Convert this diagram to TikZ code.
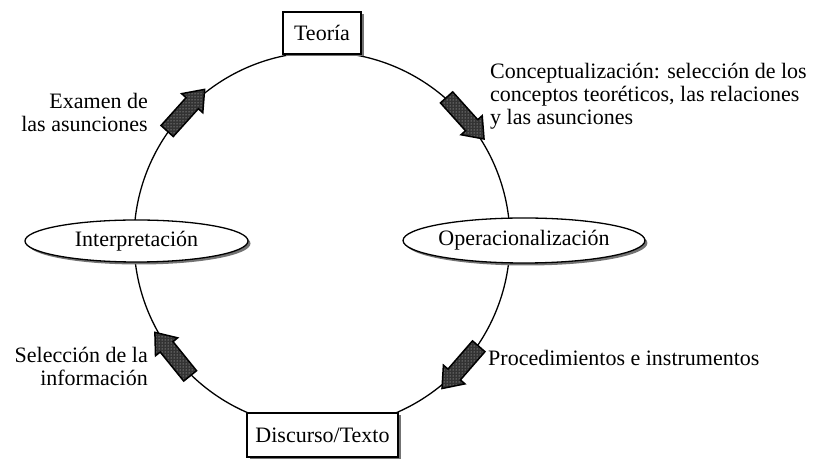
\documentclass[tikz,border=0pt]{standalone}
\usepackage{fontspec}
\setmainfont{Liberation Serif}
\usetikzlibrary{shapes.geometric,shapes.arrows,shadows,calc,patterns}
\begin{document}
\begin{tikzpicture}[x=1pt,y=1pt,
  txt/.style={font=\fontsize{22}{23}\selectfont},
  lbl/.style={txt, inner sep=0pt},
  shad/.style={drop shadow={shadow xshift=2.5pt, shadow yshift=-2.5pt, fill=black!55, opacity=1}},
  boxnode/.style={txt, draw, line width=1.4pt, fill=white, shad, inner sep=0pt},
  ellnode/.style={txt, ellipse, draw, line width=1.3pt, fill=white, shad, inner sep=0pt},
  flowarrow/.style={single arrow, draw, line width=1.5pt,
    preaction={fill=black!80}, pattern=dots, pattern color=white!85!black,
    minimum height=56pt, inner sep=0pt, text height=7.5pt, text depth=7.5pt,
    single arrow head extend=6pt, single arrow tip angle=75}
]
\useasboundingbox (0,0) rectangle (824,460);
\coordinate (O) at (322,220);
\draw[line width=1.3pt] (O) circle (188);
\node[flowarrow, rotate=48]  (a1) at ($(O)+(138:188)$) {};
\node[flowarrow, rotate=-48] (a2) at ($(O)+(42:188)$) {};
\node[flowarrow, rotate=-131] (a3) at ($(O)+(-41:188)$) {};
\node[flowarrow, rotate=129] (a4) at ($(O)+(-141:188)$) {};
\node[boxnode, minimum width=78pt, minimum height=42pt] (teoria) at (322,427) {Teoría};
\node[boxnode, minimum width=151pt, minimum height=44pt] (disc) at (322.5,25) {Discurso/Texto};
\node[ellnode, minimum width=223pt, minimum height=42pt] (interp) at (136.5,219) {Interpretación};
\node[ellnode, minimum width=208pt, minimum height=45pt] (oper) at (524,219.5) {Operacionalización};
\node[lbl, anchor=west, align=left] (concept) at (490,364) {Conceptualización: selección de los\\conceptos teoréticos, las relaciones\\y las asunciones};
\node[lbl, anchor=west] (proc) at (488,102) {Procedimientos e instrumentos};
\node[lbl, anchor=east, align=right] (sel) at (148,94) {Selección de la\\información};
\node[lbl, anchor=east, align=right] (exam) at (148,348) {Examen de\\las asunciones};
\end{tikzpicture}
\end{document}
